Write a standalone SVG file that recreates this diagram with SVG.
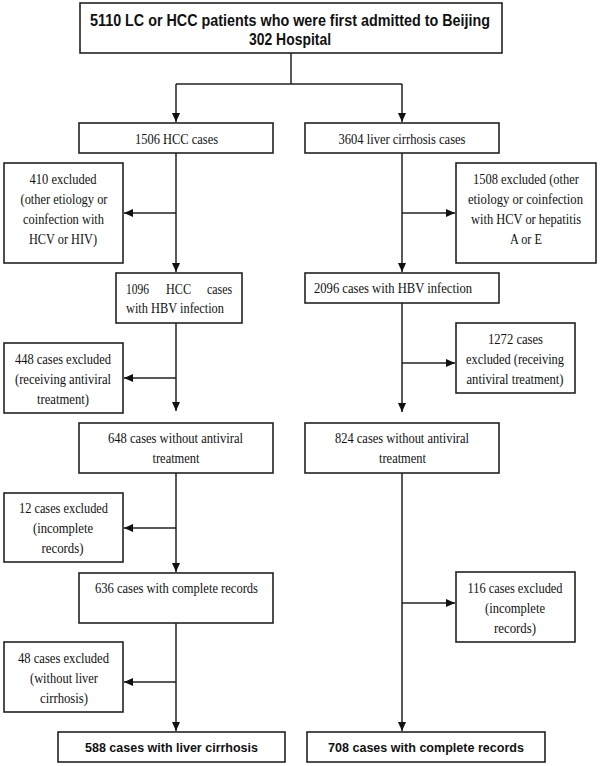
<svg xmlns="http://www.w3.org/2000/svg" width="600" height="766" viewBox="0 0 600 766">
<style>
.box{fill:#fff;stroke:#222;stroke-width:1.6}
.t{font-family:"Liberation Serif","Times New Roman",serif;font-size:14px;fill:#111;text-anchor:middle}
.tl{font-family:"Liberation Serif","Times New Roman",serif;font-size:14px;fill:#111}
.b{font-family:"Liberation Sans",Arial,sans-serif;font-weight:bold;fill:#111;text-anchor:middle}
.c{fill:none;stroke:#222;stroke-width:1.5}
</style>
<defs>
<marker id="ah" markerUnits="userSpaceOnUse" markerWidth="9" markerHeight="8" refX="9" refY="4" orient="auto">
<path d="M0,0 L9,4 L0,8 z" fill="#111"/>
</marker>
</defs>
<rect width="600" height="766" fill="#fff"/>

<g id="connectors">
<path class="c" d="M291,53 V84 M176,84 H402"/>
<path class="c" d="M176,84 V122" marker-end="url(#ah)"/>
<path class="c" d="M402,84 V122" marker-end="url(#ah)"/>
<path class="c" d="M176,153 V272" marker-end="url(#ah)"/>
<path class="c" d="M176,213 H124" marker-end="url(#ah)"/>
<path class="c" d="M402,153 V272" marker-end="url(#ah)"/>
<path class="c" d="M402,213 H455" marker-end="url(#ah)"/>
<path class="c" d="M176,323 V411" marker-end="url(#ah)"/>
<path class="c" d="M176,378 H124" marker-end="url(#ah)"/>
<path class="c" d="M402,303 V412" marker-end="url(#ah)"/>
<path class="c" d="M402,363 H455" marker-end="url(#ah)"/>
<path class="c" d="M176,473 V572" marker-end="url(#ah)"/>
<path class="c" d="M176,528 H124" marker-end="url(#ah)"/>
<path class="c" d="M402,473 V731" marker-end="url(#ah)"/>
<path class="c" d="M402,603 H455" marker-end="url(#ah)"/>
<path class="c" d="M176,623 V731" marker-end="url(#ah)"/>
<path class="c" d="M176,682 H124" marker-end="url(#ah)"/>
</g>

<g id="top">
<rect class="box" x="80" y="3" width="422" height="50"/>
<text class="b" font-size="17" x="290" y="26" textLength="400" lengthAdjust="spacingAndGlyphs">5110 LC or HCC patients who were first admitted to Beijing</text>
<text class="b" font-size="17" x="290" y="45" textLength="82" lengthAdjust="spacingAndGlyphs">302 Hospital</text>
</g>

<g id="n1506">
<rect class="box" x="79" y="123" width="194" height="30"/>
<text class="t" x="176.5" y="144" textLength="83" lengthAdjust="spacingAndGlyphs">1506 HCC cases</text>
</g>

<g id="n3604">
<rect class="box" x="305" y="123" width="194" height="30"/>
<text class="t" x="402" y="144" textLength="127" lengthAdjust="spacingAndGlyphs">3604 liver cirrhosis cases</text>
</g>

<g id="ex410">
<rect class="box" x="4" y="163" width="119" height="100"/>
<text class="t" x="63" y="184" textLength="67" lengthAdjust="spacingAndGlyphs">410 excluded</text>
<text class="t" x="64" y="204" textLength="87" lengthAdjust="spacingAndGlyphs">(other etiology or</text>
<text class="t" x="63.5" y="224" textLength="81" lengthAdjust="spacingAndGlyphs">coinfection with</text>
<text class="t" x="63" y="244" textLength="68" lengthAdjust="spacingAndGlyphs">HCV or HIV)</text>
</g>

<g id="ex1508">
<rect class="box" x="456" y="163" width="140" height="100"/>
<text class="t" x="526" y="184" textLength="106" lengthAdjust="spacingAndGlyphs">1508 excluded (other</text>
<text class="t" x="525.5" y="204" textLength="115" lengthAdjust="spacingAndGlyphs">etiology or coinfection</text>
<text class="t" x="526" y="224" textLength="110" lengthAdjust="spacingAndGlyphs">with HCV or hepatitis</text>
<text class="t" x="526" y="244" textLength="32" lengthAdjust="spacingAndGlyphs">A or E</text>
</g>

<g id="n1096">
<rect class="box" x="116" y="273" width="126" height="50"/>
<text class="tl" x="126" y="294" textLength="23" lengthAdjust="spacingAndGlyphs">1096</text>
<text class="tl" x="166" y="294" textLength="25" lengthAdjust="spacingAndGlyphs">HCC</text>
<text class="tl" x="207" y="294" textLength="25" lengthAdjust="spacingAndGlyphs">cases</text>
<text class="tl" x="126" y="313" textLength="98" lengthAdjust="spacingAndGlyphs">with HBV infection</text>
</g>

<g id="n2096">
<rect class="box" x="305" y="273" width="194" height="30"/>
<text class="tl" x="314" y="293" textLength="158" lengthAdjust="spacingAndGlyphs">2096 cases with HBV infection</text>
</g>

<g id="ex448">
<rect class="box" x="4" y="343" width="119" height="70"/>
<text class="t" x="63" y="364" textLength="96" lengthAdjust="spacingAndGlyphs">448 cases excluded</text>
<text class="t" x="63" y="384" textLength="96" lengthAdjust="spacingAndGlyphs">(receiving antiviral</text>
<text class="t" x="63" y="404" textLength="52" lengthAdjust="spacingAndGlyphs">treatment)</text>
</g>

<g id="ex1272">
<rect class="box" x="456" y="323" width="119" height="70"/>
<text class="t" x="515.5" y="344" textLength="55" lengthAdjust="spacingAndGlyphs">1272 cases</text>
<text class="t" x="515" y="364" textLength="98" lengthAdjust="spacingAndGlyphs">excluded (receiving</text>
<text class="t" x="515" y="384" textLength="97" lengthAdjust="spacingAndGlyphs">antiviral treatment)</text>
</g>

<g id="n648">
<rect class="box" x="79" y="423" width="194" height="50"/>
<text class="t" x="175.5" y="443" textLength="135" lengthAdjust="spacingAndGlyphs">648 cases without antiviral</text>
<text class="t" x="176" y="463" textLength="47" lengthAdjust="spacingAndGlyphs">treatment</text>
</g>

<g id="n824">
<rect class="box" x="305" y="423" width="194" height="50"/>
<text class="t" x="402" y="443" textLength="134" lengthAdjust="spacingAndGlyphs">824 cases without antiviral</text>
<text class="t" x="402.5" y="463" textLength="47" lengthAdjust="spacingAndGlyphs">treatment</text>
</g>

<g id="ex12">
<rect class="box" x="4" y="493" width="119" height="69"/>
<text class="t" x="63.5" y="513" textLength="89" lengthAdjust="spacingAndGlyphs">12 cases excluded</text>
<text class="t" x="63" y="533" textLength="60" lengthAdjust="spacingAndGlyphs">(incomplete</text>
<text class="t" x="62.5" y="553" textLength="42" lengthAdjust="spacingAndGlyphs">records)</text>
</g>

<g id="n636">
<rect class="box" x="79" y="573" width="194" height="50"/>
<text class="t" x="176.5" y="593" textLength="163" lengthAdjust="spacingAndGlyphs">636 cases with complete records</text>
</g>

<g id="ex116">
<rect class="box" x="456" y="572" width="119" height="70"/>
<text class="t" x="515" y="593" textLength="95" lengthAdjust="spacingAndGlyphs">116 cases excluded</text>
<text class="t" x="515" y="613" textLength="60" lengthAdjust="spacingAndGlyphs">(incomplete</text>
<text class="t" x="515" y="633" textLength="42" lengthAdjust="spacingAndGlyphs">records)</text>
</g>

<g id="ex48">
<rect class="box" x="4" y="642" width="119" height="70"/>
<text class="t" x="63.5" y="663" textLength="91" lengthAdjust="spacingAndGlyphs">48 cases excluded</text>
<text class="t" x="64" y="683" textLength="68" lengthAdjust="spacingAndGlyphs">(without liver</text>
<text class="t" x="64" y="703" textLength="48" lengthAdjust="spacingAndGlyphs">cirrhosis)</text>
</g>

<g id="n588">
<rect class="box" x="58" y="732" width="227" height="30"/>
<text class="b" font-size="13" x="171.5" y="752" textLength="173" lengthAdjust="spacingAndGlyphs">588 cases with liver cirrhosis</text>
</g>

<g id="n708">
<rect class="box" x="307" y="732" width="238" height="30"/>
<text class="b" font-size="13" x="426" y="752" textLength="196" lengthAdjust="spacingAndGlyphs">708 cases with complete records</text>
</g>
</svg>
